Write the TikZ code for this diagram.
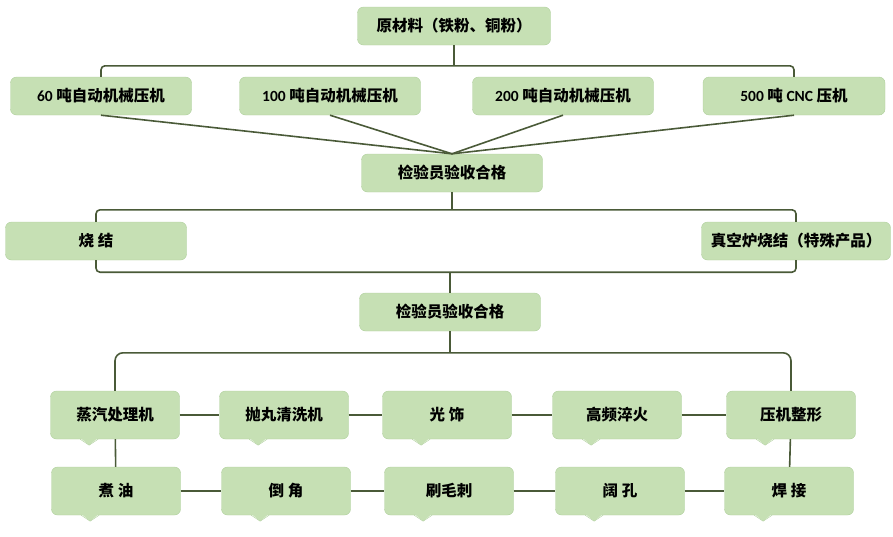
\documentclass[tikz,border=0pt]{standalone}
\usepackage{fontspec}
\setmainfont{Noto Sans CJK SC}
\newfontfamily\latin{Carlito}
\usetikzlibrary{calc}
\definecolor{boxgreen}{HTML}{C6E0B4}
\definecolor{boxedge}{HTML}{AFCF9C}
\definecolor{linegreen}{HTML}{4A5A38}
\tikzstyle{process box}=[draw=boxedge, fill=boxgreen, rounded corners=6pt, inner sep=0pt,
  minimum height=38pt, font=\fontsize{15.5}{18}\selectfont\bfseries]
\tikzstyle{step box}=[process box, minimum width=129pt, minimum height=48pt]
\tikzstyle{link}=[draw=linegreen, line width=1.6pt]

\begin{document}
\begin{tikzpicture}[x=1pt, y=-1pt]
          \useasboundingbox (0, 0) rectangle (893, 536);

          \node[process box, minimum width=193pt] (raw) at (454, 26) {原材料（铁粉、铜粉）};
          \node[process box, minimum width=181pt] (p60) at (101, 96) {{\latin 60} 吨自动机械压机};
          \node[process box, minimum width=181pt] (p100) at (330, 96) {{\latin 100} 吨自动机械压机};
          \node[process box, minimum width=181pt] (p200) at (563, 96) {{\latin 200} 吨自动机械压机};
          \node[process box, minimum width=182pt] (p500) at (794, 96) {{\latin 500} 吨 {\latin CNC} 压机};
          \node[process box, minimum width=181pt] (check1) at (452, 173) {检验员验收合格};
          \node[process box, minimum width=181pt] (sinter) at (96, 241) {烧 结};
          \node[process box, minimum width=189pt] (vacuum) at (796, 241) {真空炉烧结（特殊产品）};
          \node[process box, minimum width=181pt] (check2) at (450, 312) {检验员验收合格};

          \node[step box] (steam) at (115, 415) {蒸汽处理机};
          \node[step box] (shot) at (284, 415) {抛丸清洗机};
          \node[step box] (polish) at (447, 415) {光 饰};
          \node[step box] (quench) at (617, 415) {高频淬火};
          \node[step box] (press) at (791, 415) {压机整形};
          \node[step box] (oil) at (116, 491) {煮 油};
          \node[step box] (chamfer) at (286, 491) {倒 角};
          \node[step box] (deburr) at (449, 491) {刷毛刺};
          \node[step box] (ream) at (620, 491) {阔 孔};
          \node[step box] (weld) at (789, 491) {焊 接};

          % notches under the step boxes
          \foreach \n in {steam, shot, polish, quench, press, oil, chamfer, deburr, ream, weld} {
            \coordinate (tip) at ($(\n.south west)!0.3!(\n.south east)$);
            \fill[boxgreen] (tip) ++(-9, -1.5) -- ++(9, 7.5) -- ++(9, -7.5) -- cycle;
            \draw[boxedge, line width=0.4pt] (tip) ++(-9, 0) -- ++(9, 6) -- ++(9, -6);
          }

          \draw[link] (raw.south) -- ++(0, 21);
          \draw[link, rounded corners=4pt] (p60.north) -- ++(0, -11) -| (p500.north);
          \foreach \n in {p60, p100, p200, p500}
            \draw[link] (\n.south) -- (check1.north);

          \draw[link] (check1.south) -- ++(0, 18);
          \draw[link, rounded corners=4pt] (sinter.north) -- ++(0, -12) -| (vacuum.north);
          \draw[link, rounded corners=4pt] (sinter.south) -- ++(0, 12) -| (vacuum.south);
          \draw[link] (check2.north) -- ++(0, -21);

          \draw[link] (check2.south) -- ++(0, 22);
          \draw[link, rounded corners=8pt] (steam.north) -- ++(0, -38) -| (press.north);

          \draw[link] (steam) -- (shot);
          \draw[link] (shot) -- (polish);
          \draw[link] (polish) -- (quench);
          \draw[link] (quench) -- (press);
          \draw[link] (steam) -- (oil);
          \draw[link] (press) -- (weld);
          \draw[link] (oil) -- (chamfer);
          \draw[link] (chamfer) -- (deburr);
          \draw[link] (deburr) -- (ream);
          \draw[link] (ream) -- (weld);
        \end{tikzpicture}
\end{document}
